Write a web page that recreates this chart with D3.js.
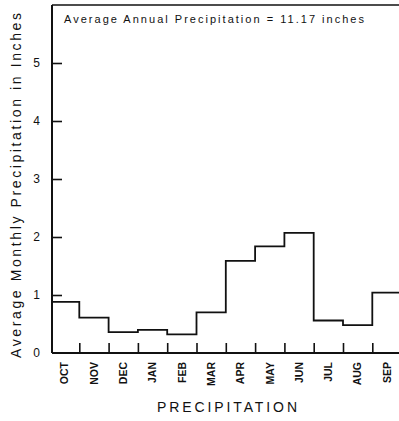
<!DOCTYPE html>
<html>
<head>
<meta charset="utf-8">
<script src="https://cdn.jsdelivr.net/npm/d3@7"></script>
<style>
html,body{margin:0;padding:0;background:#fff;}
svg{display:block;}
text{fill:#111;font-family:"Liberation Sans",Arial,sans-serif;}
</style>
</head>
<body>
<svg id="chart" width="399" height="421"></svg>
<script>
const months = ["OCT","NOV","DEC","JAN","FEB","MAR","APR","MAY","JUN","JUL","AUG","SEP"];
const precip = [0.88,0.61,0.36,0.40,0.32,0.70,1.59,1.84,2.07,0.56,0.48,1.04];
const yTicks = [0,1,2,3,4,5];
const titleText = "Average Annual Precipitation = 11.17 inches";
const yTitle = "Average Monthly Precipitation in Inches";
const xTitle = "PRECIPITATION";

const svg = d3.select("#chart");
const axisX = 52, plotTop = 5, plotBottom = 353;
const x = d3.scaleLinear().domain([0, 12]).range([50, 401.6]);
const y = d3.scaleLinear().domain([0, 6]).range([plotBottom, plotTop]);
const ink = "#111";

// frame: left axis, bottom axis, top line
svg.append("line").attr("x1", axisX).attr("x2", axisX).attr("y1", plotTop).attr("y2", plotBottom)
  .attr("stroke", ink).attr("stroke-width", 2);
svg.append("line").attr("x1", axisX).attr("x2", 399).attr("y1", plotBottom).attr("y2", plotBottom)
  .attr("stroke", ink).attr("stroke-width", 2);
svg.append("line").attr("x1", axisX).attr("x2", 399).attr("y1", plotTop).attr("y2", plotTop)
  .attr("stroke", ink).attr("stroke-width", 1.6);

// y ticks (inward) and labels
const yAxis = d3.axisRight(y).tickValues(yTicks.filter(d => d > 0)).tickSize(10).tickFormat("");
svg.append("g").attr("transform", `translate(${axisX},0)`).call(yAxis)
  .call(g => g.select(".domain").remove())
  .call(g => g.selectAll("line").attr("stroke", ink).attr("stroke-width", 1.6));
svg.append("g").selectAll("text").data(yTicks).join("text")
  .attr("x", 36.5).attr("y", d => y(d)).attr("dy", "0.36em")
  .attr("text-anchor", "middle").attr("font-size", 12).text(d => d);

// x ticks (inward, at month boundaries)
const xAxis = d3.axisTop(x).tickValues(d3.range(1, 12)).tickSize(10).tickFormat("");
svg.append("g").attr("transform", `translate(0,${plotBottom})`).call(xAxis)
  .call(g => g.select(".domain").remove())
  .call(g => g.selectAll("line").attr("stroke", ink).attr("stroke-width", 1.6));

// month labels (rotated)
svg.append("g").selectAll("text").data(months).join("text")
  .attr("transform", (d, i) => `translate(${x(i + 0.5) + 3.8},362) rotate(-90)`)
  .attr("text-anchor", "end").attr("font-size", 10.5).attr("font-weight", "bold").text(d => d);

// step line
const pts = [];
precip.forEach((v, i) => {
  pts.push([Math.max(x(i), axisX), y(v)]);
  pts.push([x(i + 1), y(v)]);
});
svg.append("path").attr("d", d3.line()(pts)).attr("fill", "none")
  .attr("stroke", ink).attr("stroke-width", 1.8);

// title inside chart
svg.append("text").attr("x", 64).attr("y", 23).attr("font-size", 11)
  .attr("textLength", 300).attr("lengthAdjust", "spacing").text(titleText);

// y title
svg.append("text").attr("transform", "translate(21,358) rotate(-90)")
  .attr("font-size", 14).attr("textLength", 345).attr("lengthAdjust", "spacing").text(yTitle);

// x title
svg.append("text").attr("x", 157).attr("y", 412).attr("font-size", 14)
  .attr("textLength", 140).attr("lengthAdjust", "spacing").text(xTitle);
</script>
</body>
</html>
